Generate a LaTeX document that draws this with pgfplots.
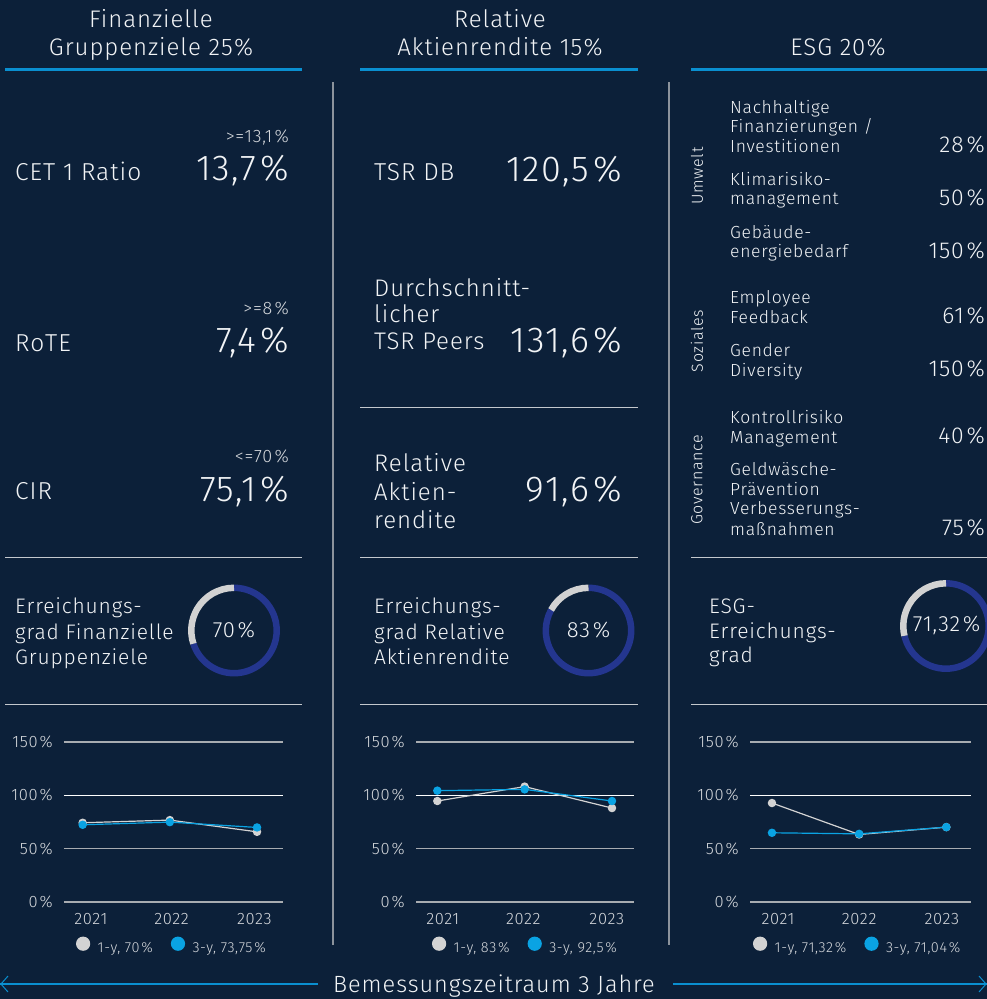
\documentclass[border=0pt]{standalone}
\usepackage{pgfplots}
\pgfplotsset{compat=1.18}
\usepackage{fontspec}
\setmainfont{Fira Sans Light}[LetterSpace=4]
\definecolor{bg}{HTML}{0C2039}
\definecolor{txt}{HTML}{F2F4F6}
\definecolor{ltxt}{HTML}{D5D8DC}
\definecolor{accent}{HTML}{0A8FD0}
\definecolor{sep}{HTML}{8C939C}
\definecolor{hline}{HTML}{C4C8CD}
\definecolor{gridgrey}{HTML}{A8ACB1}
\definecolor{ringblue}{HTML}{24368F}
\definecolor{ringgrey}{HTML}{D2D2D2}
\definecolor{sone}{HTML}{D3D3D3}
\definecolor{sthree}{HTML}{0AA3E3}
\newcommand\fs[1]{\fontsize{#1}{#1}\selectfont}
\newcommand\pc{\hspace{0.12em}\%}
\newcommand\hpc{\hspace{0.05em}\%}
\pgfplotsset{
  trend/.style={
    scale only axis, height=160pt,
    ymin=0, ymax=150, ytick={0,50,150}, yticklabels={0\pc,50\pc,150\pc},
    extra y ticks={100}, extra y tick labels={100\pc},
    extra y tick style={grid style={white, line width=1.2pt}},
    xticklabels={2021,2022,2023},
    axis line style={draw=none}, major tick length=0pt,
    ymajorgrids, grid style={line width=1.2pt, color=gridgrey},
    tick label style={font=\fs{16.5}, text=ltxt},
    yticklabel style={inner sep=0pt, anchor=east, xshift=-11pt},
    xticklabel style={inner sep=0pt, anchor=base, yshift=-22pt},
    clip=false,
    legend columns=2,
    legend style={draw=none, fill=none, inner sep=0pt, font=\fs{14.5}, text=ltxt, anchor=west,
      /tikz/every even column/.append style={column sep=16pt}},
    legend image code/.code={\fill[#1] (0pt,4.5pt) circle (6.5pt); \path (-6.5pt,0pt) (12pt,0pt);},
  },
  one/.style={sone, line width=1.2pt, mark=*, mark size=3.6pt, mark options={solid, fill=sone, draw=sone}},
  three/.style={sthree, line width=1.2pt, mark=*, mark size=3.6pt, mark options={solid, fill=sthree, draw=sthree}},
}
\begin{document}
\begin{tikzpicture}[x=1pt,y=-1pt]
\useasboundingbox (0,0) rectangle (987,999);
\clip (0,0) rectangle (987,999);
\fill[bg] (0,0) rectangle (987,999);

% headers
\begin{scope}[every node/.style={text=txt, font=\fs{24}, inner sep=0pt, anchor=base}]
\node at (151,27) {Finanzielle};
\node at (151,55) {Gruppenziele 25\hpc};
\node at (500,27) {Relative};
\node at (500,55) {Aktienrendite 15\hpc};
\node at (838,55) {ESG 20\hpc};
\end{scope}
\draw[accent, line width=3pt] (5,69.5) -- (302,69.5);
\draw[accent, line width=3pt] (360,69.5) -- (638,69.5);
\draw[accent, line width=3pt] (691,69.5) -- (987,69.5);

% separators
\draw[sep, line width=1.5pt] (333,82) -- (333,945);
\draw[sep, line width=1.5pt] (669,82) -- (669,945);
\foreach \yy in {557,704} {
  \draw[hline, line width=1pt] (5,\yy) -- (302,\yy);
  \draw[hline, line width=1pt] (360,\yy) -- (638,\yy);
  \draw[hline, line width=1pt] (691,\yy) -- (987,\yy);
}
\draw[hline, line width=1pt] (360,407) -- (638,407);

% column 1
\begin{scope}[every node/.style={text=txt, inner sep=0pt}]
\node[anchor=base west, font=\fs{24.5}] at (15,180) {CET 1 Ratio};
\node[anchor=base east, font=\fs{18}, text=ltxt] at (289,142.5) {>=13,1\pc};
\node[anchor=base east, font=\fs{36}] at (289,180) {13,7\pc};
\node[anchor=base west, font=\fs{24.5}] at (15,351) {RoTE};
\node[anchor=base east, font=\fs{18}, text=ltxt] at (289,314) {>=8\pc};
\node[anchor=base east, font=\fs{36}] at (289,352) {7,4\pc};
\node[anchor=base west, font=\fs{24.5}] at (15,499) {CIR};
\node[anchor=base east, font=\fs{18}, text=ltxt] at (289,462) {<=70\pc};
\node[anchor=base east, font=\fs{36}] at (289,501) {75,1\pc};
\node[anchor=base west, font=\fs{21}] at (15,613.5) {Erreichungs-};
\node[anchor=base west, font=\fs{21}] at (15,639) {grad Finanzielle};
\node[anchor=base west, font=\fs{21}] at (15,664) {Gruppenziele};
\node[font=\fs{22}] at (234,630.5) {70\pc};

% column 2
\node[anchor=base west, font=\fs{24.5}] at (374,180) {TSR DB};
\node[anchor=base east, font=\fs{36}] at (622,181) {120,5\pc};
\node[anchor=base west, font=\fs{24}] at (374,296) {Durchschnitt-};
\node[anchor=base west, font=\fs{24}] at (374,322) {licher};
\node[anchor=base west, font=\fs{24}] at (374,349) {TSR Peers};
\node[anchor=base east, font=\fs{36}] at (622,352) {131,6\pc};
\node[anchor=base west, font=\fs{24}] at (374,471) {Relative};
\node[anchor=base west, font=\fs{24}] at (374,500) {Aktien-};
\node[anchor=base west, font=\fs{24}] at (374,528) {rendite};
\node[anchor=base east, font=\fs{36}] at (622,501) {91,6\pc};
\node[anchor=base west, font=\fs{21}] at (374,613.5) {Erreichungs-};
\node[anchor=base west, font=\fs{21}] at (374,639) {grad Relative};
\node[anchor=base west, font=\fs{21}] at (374,664) {Aktienrendite};
\node[font=\fs{22}] at (588.5,630.5) {83\pc};

% column 3
\node[rotate=90, font=\fs{16}] at (697,176) {Umwelt};
\node[rotate=90, font=\fs{16}] at (697,341) {Soziales};
\node[rotate=90, font=\fs{16}] at (697,480) {Governance};
\begin{scope}[every node/.append style={anchor=base west, font=\fs{17.5}}]
\node at (730,113) {Nachhaltige};
\node at (730,132.5) {Finanzierungen /};
\node at (730,152) {Investitionen};
\node at (730,185) {Klimarisiko-};
\node at (730,204.5) {management};
\node at (730,238) {Gebäude-};
\node at (730,257.5) {energiebedarf};
\node at (730,303) {Employee};
\node at (730,323) {Feedback};
\node at (730,356.5) {Gender};
\node at (730,376) {Diversity};
\node at (730,423) {Kontrollrisiko};
\node at (730,443) {Management};
\node at (730,475) {Geldwäsche-};
\node at (730,495) {Prävention};
\node at (730,514.5) {Verbesserungs-};
\node at (730,535) {maßnahmen};
\end{scope}
\begin{scope}[every node/.append style={anchor=base east, font=\fs{23}}]
\node at (985,152) {28\pc};
\node at (985,205) {50\pc};
\node at (985,258) {150\pc};
\node at (985,323.5) {61\pc};
\node at (985,376) {150\pc};
\node at (985,443.5) {40\pc};
\node at (985,535) {75\pc};
\end{scope}
\node[anchor=base west, font=\fs{21}] at (709,613.5) {ESG-};
\node[anchor=base west, font=\fs{21}] at (709,638.5) {Erreichungs-};
\node[anchor=base west, font=\fs{21}] at (709,662) {grad};
\end{scope}

% donuts
\begin{scope}[shift={(234,630.5)}, y=1pt]
\draw[ringblue, line width=6.5pt] (90:42.7) arc[start angle=90, end angle=-162, radius=42.7];
\draw[ringgrey, line width=6.5pt] (90:42.7) arc[start angle=90, end angle=198, radius=42.7];
\end{scope}
\begin{scope}[shift={(588.5,630.5)}, y=1pt]
\draw[ringblue, line width=6.5pt] (90:42.7) arc[start angle=90, end angle=-208.8, radius=42.7];
\draw[ringgrey, line width=6.5pt] (90:42.7) arc[start angle=90, end angle=151.2, radius=42.7];
\end{scope}
\begin{scope}[shift={(946,626)}, y=1pt]
\draw[ringblue, line width=6.5pt] (90:42.7) arc[start angle=90, end angle=-166.75, radius=42.7];
\draw[ringgrey, line width=6.5pt] (90:42.7) arc[start angle=90, end angle=193.25, radius=42.7];
\end{scope}
\node[text=txt, font=\fs{22}, inner sep=0pt] at (946.5,625) {71,32\pc};

% trend charts
\begin{axis}[trend, at={(64pt,-902pt)}, anchor=south west, width=219pt,
  xmin=-0.214, xmax=2.298, xtick={0.095,1.02,1.97},
  legend style={at={(axis description cs:0.054,-0.277)}}]
\addplot[one] coordinates {(0,74.3) (1,76.8) (2,65.8)};
\addlegendentry{1-y, 70\pc}
\addplot[three] coordinates {(0,72.4) (1,74.9) (2,69.9)};
\addlegendentry{3-y, 73,75\pc}
\end{axis}
\begin{axis}[trend, at={(416pt,-902pt)}, anchor=south west, width=218pt,
  xmin=-0.244, xmax=2.252, xtick={0.063,0.985,1.94},
  legend style={at={(axis description cs:0.0725,-0.277)}}]
\addplot[one] coordinates {(0,94.7) (1,108.2) (2,88.1)};
\addlegendentry{1-y, 83\pc}
\addplot[three] coordinates {(0,104.4) (1,105.6) (2,94.7)};
\addlegendentry{3-y, 92,5\pc}
\end{axis}
\begin{axis}[trend, at={(750pt,-902pt)}, anchor=south west, width=221pt,
  xmin=-0.252, xmax=2.283, xtick={0.069,1,1.95},
  legend style={at={(axis description cs:0.0127,-0.277)}}]
\addplot[one] coordinates {(0,92.8) (1,63.3) (2,70.2)};
\addlegendentry{1-y, 71,32\pc}
\addplot[three] coordinates {(0,64.9) (1,63.9) (2,70.2)};
\addlegendentry{3-y, 71,04\pc}
\end{axis}

% bottom
\draw[accent, line width=1.5pt] (0,984) -- (318,984);
\draw[accent, line width=1.5pt] (673,984) -- (987,984);
\draw[accent, line width=1pt] (8,976) -- (1,984) -- (8,992);
\draw[accent, line width=1pt] (979,976) -- (986,984) -- (979,992);
\node[text=txt, font=\fs{23.5}, inner sep=0pt, anchor=base] at (494,992) {Bemessungszeitraum 3 Jahre};
\end{tikzpicture}
\end{document}
